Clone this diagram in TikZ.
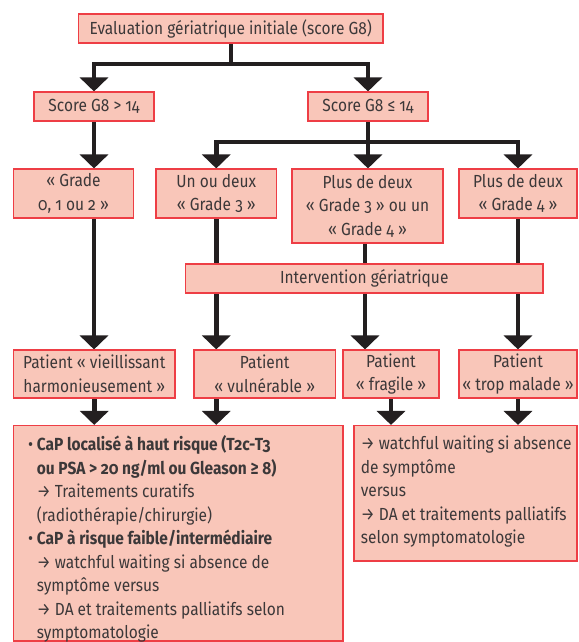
\documentclass[tikz,border=0pt]{standalone}
\usepackage{fontspec}
\setmainfont{Fira Sans}[Numbers=OldStyle, FakeStretch=0.885]
\usetikzlibrary{arrows.meta,backgrounds}
\definecolor{boxfill}{HTML}{F9C6B9}
\definecolor{boxline}{HTML}{EE3E45}
\definecolor{conn}{HTML}{231F20}
\definecolor{txt}{HTML}{3C3839}
\newcommand{\fsz}{\fontsize{17.5}{23.5}\selectfont}
\newcommand{\bul}{\makebox[8.7pt][l]{•}}
\newcommand{\ind}{\hspace*{8.7pt}}
\begin{document}
\begin{tikzpicture}[x=1pt,y=-1pt,
  box/.style={draw=boxline, fill=boxfill, line width=1.1pt, inner sep=0pt, text=txt, align=center, font=\fsz},
  btext/.style={inner sep=0pt, text=txt, align=left, font=\fsz},
  link/.style={draw=conn, line width=4.5pt, line join=miter},
  arr/.style={link, -{Triangle[width=28pt,length=14pt]}},
]
\useasboundingbox (0,0) rectangle (578,642);
\node[box, minimum width=304.5pt, minimum height=29pt] (top) at (230.75,28.5) {Evaluation gériatrique initiale (score G8)};
\node[box, minimum width=120pt, minimum height=29pt] (s1) at (94,106.5) {Score G8 > 14};
\node[box, minimum width=120pt, minimum height=29pt] (s2) at (368,106.5) {Score G8 ≤ 14};
\node[box, minimum width=120pt, minimum height=49pt] (g1) at (73.5,193.5) {«~Grade\\0, 1 ou 2~»};
\node[box, minimum width=120.5pt, minimum height=49pt] (g2) at (216.25,193.5) {Un ou deux\\«~Grade 3~»};
\node[box, minimum width=151pt, minimum height=74pt] (g3) at (367.5,206) {Plus de deux\\«~Grade 3~» ou un\\«~Grade 4~»};
\node[box, minimum width=118pt, minimum height=49pt] (g4) at (518,193.5) {Plus de deux\\«~Grade 4~»};
\node[box, minimum width=357.5pt, minimum height=29pt] (iv) at (364.25,278.5) {Intervention gériatrique};
\node[box, minimum width=161.5pt, minimum height=48pt] (p1) at (94.25,374) {Patient «~vieillissant\\harmonieusement~»};
\node[box, minimum width=141.5pt, minimum height=48pt] (p2) at (264.75,374) {Patient\\«~vulnérable~»};
\node[box, minimum width=96pt, minimum height=48pt] (p3) at (391,374) {Patient\\«~fragile~»};
\node[box, minimum width=118pt, minimum height=48pt] (p4) at (518,374) {Patient\\«~trop malade~»};
\node[box, minimum width=329.5pt, minimum height=215.5pt] (bL) at (178.25,533.25) {};
\node[box, minimum width=223pt, minimum height=135.5pt] (bR) at (465.5,493.25) {};
\node[btext, anchor=north west] (bLt) at (28,435.5) {\bul\textbf{CaP localisé à haut risque (T2c-T3}\\
\ind\textbf{ou PSA > 20 ng/ml ou Gleason ≥ 8)}\\
\ind→ Traitements curatifs\\
\ind(radiothérapie/chirurgie)\\
\bul\textbf{CaP à risque faible/intermédiaire}\\
\ind→ watchful waiting si absence de\\
\ind symptôme versus\\
\ind→ DA et traitements palliatifs selon\\
\ind symptomatologie};
\node[btext, anchor=north west] (bRt) at (360.7,436) {→ watchful waiting si absence\\
de symptôme\\
versus\\
→ DA et traitements palliatifs\\
selon symptomatologie};
\coordinate (b1) at (230.75,64);
\coordinate (b2) at (368,142);
\coordinate (x3) at (365,0);
\begin{scope}[on background layer]
\draw[link] (top.south) -- (b1);
\draw[arr] (b1) -| (s1.north);
\draw[arr] (b1) -| (s2.north);
\draw[link] (s2.south) -- (b2);
\draw[arr] (b2) -| (g2.north);
\draw[arr] (b2) -- (b2 |- g3.north);
\draw[arr] (b2) -| (g4.north);
\draw[arr] (s1.south) -- (s1.south |- g1.north);
\draw[arr] (s1.south |- g1.south) -- (s1.south |- p1.north);
\draw[arr] (g2.south) -- (g2.south |- p2.north);
\draw[arr] (x3 |- g3.south) -- (x3 |- p3.north);
\draw[arr] (g4.south) -- (g4.south |- p4.north);
\draw[arr] (p1.south) -- (p1.south |- bL.north);
\draw[arr] (g2.south |- p2.south) -- (g2.south |- bL.north);
\draw[arr] (p3.south) -- (p3.south |- bR.north);
\draw[arr] (p4.south) -- (p4.south |- bR.north);
\end{scope}
\end{tikzpicture}
\end{document}
